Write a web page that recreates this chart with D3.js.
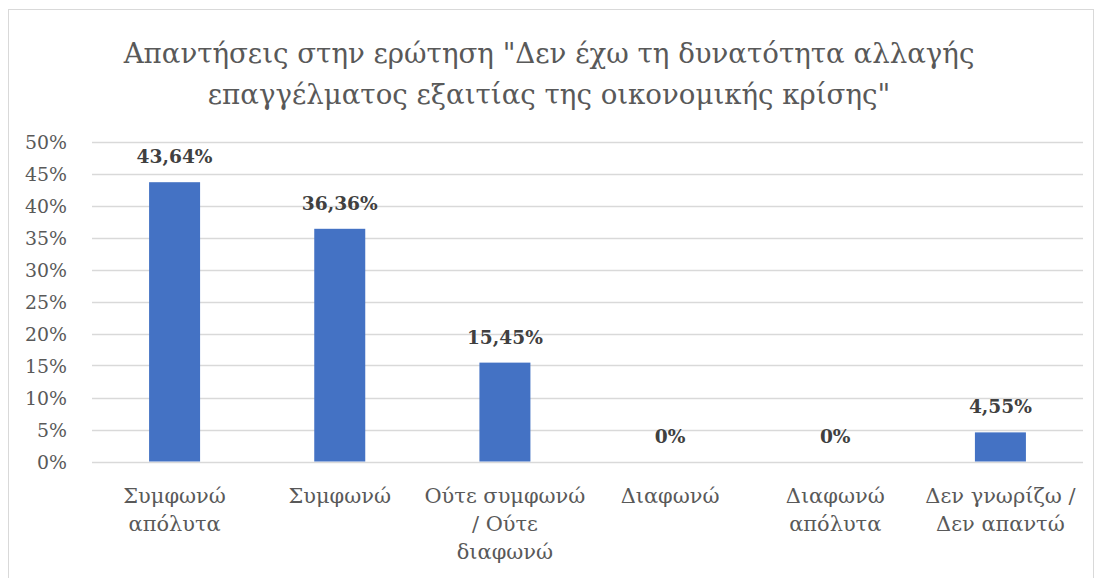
<!DOCTYPE html>
<html><head><meta charset="utf-8">
<script src="https://cdn.jsdelivr.net/npm/d3@7"></script>
<style>body{margin:0;background:#fff}svg{display:block}</style>
</head><body>
<svg id="chart" width="1098" height="578"></svg>
<script>
const titleLines = ['Απαντήσεις στην ερώτηση "Δεν έχω τη δυνατότητα αλλαγής', 'επαγγέλματος εξαιτίας της οικονομικής κρίσης"'];
const categories = ["Συμφωνώ\nαπόλυτα", "Συμφωνώ", "Ούτε συμφωνώ\n/ Ούτε\nδιαφωνώ", "Διαφωνώ", "Διαφωνώ\nαπόλυτα", "Δεν γνωρίζω /\nΔεν απαντώ"];
const values = [43.64, 36.36, 15.45, 0, 0, 4.55];
const valueLabels = ["43,64%", "36,36%", "15,45%", "0%", "0%", "4,55%"];
const yTicks = [0, 5, 10, 15, 20, 25, 30, 35, 40, 45, 50];

const font = "'DejaVu Serif', serif";
const svg = d3.select("#chart");
const W = 1098, H = 578;
const m = {left: 92, right: 15, top: 141.5, bottom: 116.5};

// find font size so that a sample string has the target width
function fitSize(str, target, weight) {
  const t = svg.append("text").attr("font-family", font).attr("font-size", 100)
    .attr("font-weight", weight || "normal").text(str);
  const w = t.node().getComputedTextLength();
  t.remove();
  return 100 * target / w;
}
const titleSize = fitSize(titleLines[0], 851);
const tickSize = fitSize("50%", 42);
const catSize = fitSize("Ούτε συμφωνώ", 161);
const valSize = fitSize("43,64%", 76, "bold");

svg.append("rect").attr("x", 8.5).attr("y", 9.5).attr("width", 1085).attr("height", 580)
  .attr("fill", "#fff").attr("stroke", "#d9d9d9");

const x = d3.scaleBand().domain(categories).range([m.left, W - m.right]).padding(0);
const y = d3.scaleLinear().domain([0, 50]).range([H - m.bottom, m.top]);

// gridlines
svg.append("g").selectAll("line").data(yTicks).join("line")
  .attr("x1", m.left).attr("x2", W - m.right)
  .attr("y1", d => Math.round(y(d)) + 0.5).attr("y2", d => Math.round(y(d)) + 0.5)
  .attr("stroke", "#d9d9d9").attr("stroke-width", 1.3);

// y axis labels
const yAxis = d3.axisLeft(y).tickValues(yTicks).tickFormat(d => d + "%").tickSize(0).tickPadding(0);
const gy = svg.append("g").attr("transform", `translate(67,0)`).call(yAxis);
gy.select(".domain").remove();
gy.selectAll("text").attr("font-family", font).attr("font-size", tickSize).attr("fill", "#595959").attr("dy", "0.35em");

// bars
const bw = 51;
svg.append("g").selectAll("rect").data(values).join("rect")
  .attr("x", (d, i) => x(categories[i]) + x.bandwidth() / 2 - bw / 2)
  .attr("width", bw)
  .attr("y", d => y(d)).attr("height", d => y(0) - y(d))
  .attr("fill", "#4472C4");

// value labels
svg.append("g").selectAll("text").data(values).join("text")
  .attr("x", (d, i) => x(categories[i]) + x.bandwidth() / 2)
  .attr("y", d => y(d) - 19)
  .attr("text-anchor", "middle")
  .attr("font-family", font).attr("font-size", valSize).attr("font-weight", "bold").attr("fill", "#404040")
  .text((d, i) => valueLabels[i]);

// category labels
const xAxis = d3.axisBottom(x).tickSize(0).tickFormat("");
const gx = svg.append("g").attr("transform", `translate(0,${y(0)})`).call(xAxis);
gx.select(".domain").remove();
gx.selectAll(".tick").each(function(d) {
  const t = d3.select(this).append("text").attr("text-anchor", "middle")
    .attr("font-family", font).attr("font-size", catSize).attr("fill", "#595959");
  d.split("\n").forEach((line, i) => {
    t.append("tspan").attr("x", 0).attr("y", 41 + i * 28).text(line);
  });
});

// title
const tt = svg.append("text").attr("text-anchor", "middle").attr("font-family", font)
  .attr("font-size", titleSize).attr("fill", "#595959");
titleLines.forEach((l, i) => tt.append("tspan").attr("x", W / 2).attr("y", 63 + i * 41).text(l));
</script>
</body></html>
